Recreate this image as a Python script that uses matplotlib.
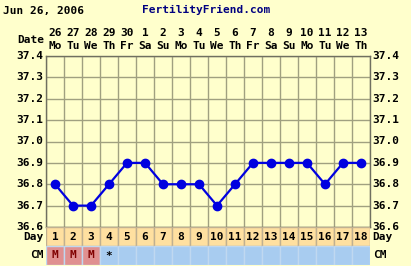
import matplotlib.pyplot as plt
from matplotlib.transforms import blended_transform_factory

dates = ["26", "27", "28", "29", "30", "1", "2", "3", "4", "5", "6", "7", "8", "9", "10", "11", "12", "13"]
weekdays = ["Mo", "Tu", "We", "Th", "Fr", "Sa", "Su", "Mo", "Tu", "We", "Th", "Fr", "Sa", "Su", "Mo", "Tu", "We", "Th"]
days = list(range(1, 19))
temps = [36.8, 36.7, 36.7, 36.8, 36.9, 36.9, 36.8, 36.8, 36.8, 36.7, 36.8, 36.9, 36.9, 36.9, 36.9, 36.8, 36.9, 36.9]
cm = ["M", "M", "M", "*"] + [""] * 14
yticks = [36.6, 36.7, 36.8, 36.9, 37.0, 37.1, 37.2, 37.3, 37.4]

bg = "#FFFFCC"
grid_c = "#A0A080"
font = dict(family="DejaVu Sans Mono", fontweight="bold", fontsize=8)

W, H = 411, 266
fig = plt.figure(figsize=(W / 100, H / 100), dpi=100, facecolor=bg)

def fx(px):
    return px / W

def fy(py):
    return 1 - py / H

# main temperature axes
left, right, top, bottom = 46, 370, 56, 227
ax = fig.add_axes([fx(left), fy(bottom), fx(right - left), (bottom - top) / H])
ax.set_facecolor(bg)
n = len(days)
xs = [i + 0.5 for i in range(n)]
ax.set_xlim(0, n)
ax.set_ylim(36.6, 37.4)
ax.set_xticks(range(n + 1))
ax.set_yticks(yticks)
ax.grid(True, color=grid_c, linewidth=1)
ax.set_axisbelow(True)
ax.tick_params(left=False, bottom=False, labelleft=False, labelbottom=False)
for s in ax.spines.values():
    s.set_color("#707060")
    s.set_linewidth(1)
ax.plot(xs, temps, color="#0000E0", linewidth=1.6, marker="o", markersize=6)

for t in yticks:
    lab = f"{t:.1f}"
    ax.text(-0.15, t, lab, ha="right", va="center", transform=ax.transData, clip_on=False, **font)
    ax.text(n + 0.15, t, lab, ha="left", va="center", transform=ax.transData, clip_on=False, **font)

# date header
tr = blended_transform_factory(ax.transData, fig.transFigure)
for i in range(n):
    ax.text(xs[i], fy(33), dates[i], ha="center", va="center", transform=tr, **font)
    ax.text(xs[i], fy(46), weekdays[i], ha="center", va="center", transform=tr, **font)
fig.text(fx(44), fy(40), "Date", ha="right", va="center", **font)

fig.text(fx(3), fy(11), "Jun 26, 2006", ha="left", va="center", **font)
fig.text(fx(206), fy(10), "FertilityFriend.com", ha="center", va="center",
         color="#000080", **font)

# Day / CM rows
ax2 = fig.add_axes([fx(left), fy(265), fx(right - left), 38 / H])
ax2.set_xlim(0, n)
ax2.set_ylim(0, 2)
ax2.axis("off")
for i in range(n):
    ax2.add_patch(plt.Rectangle((i, 1), 1, 1, facecolor="#FFE0A0", edgecolor="#C0B090", linewidth=1))
    c = "#E09090" if cm[i] == "M" else "#A8CCF0"
    ax2.add_patch(plt.Rectangle((i, 0), 1, 1, facecolor=c, edgecolor="#C0D8F0", linewidth=1))
    ax2.text(i + 0.5, 1.5, str(days[i]), ha="center", va="center", **font)
    if cm[i]:
        ax2.text(i + 0.5, 0.5, cm[i], ha="center", va="center",
                 color="#800000" if cm[i] == "M" else "black", **font)
for yy, lab in [(1.5, "Day"), (0.5, "CM")]:
    ax2.text(-0.15, yy, lab, ha="right", va="center", clip_on=False, **font)
    ax2.text(n + 0.15, yy, lab, ha="left", va="center", clip_on=False, **font)

fig.savefig("out.png", dpi=100, facecolor=bg)
